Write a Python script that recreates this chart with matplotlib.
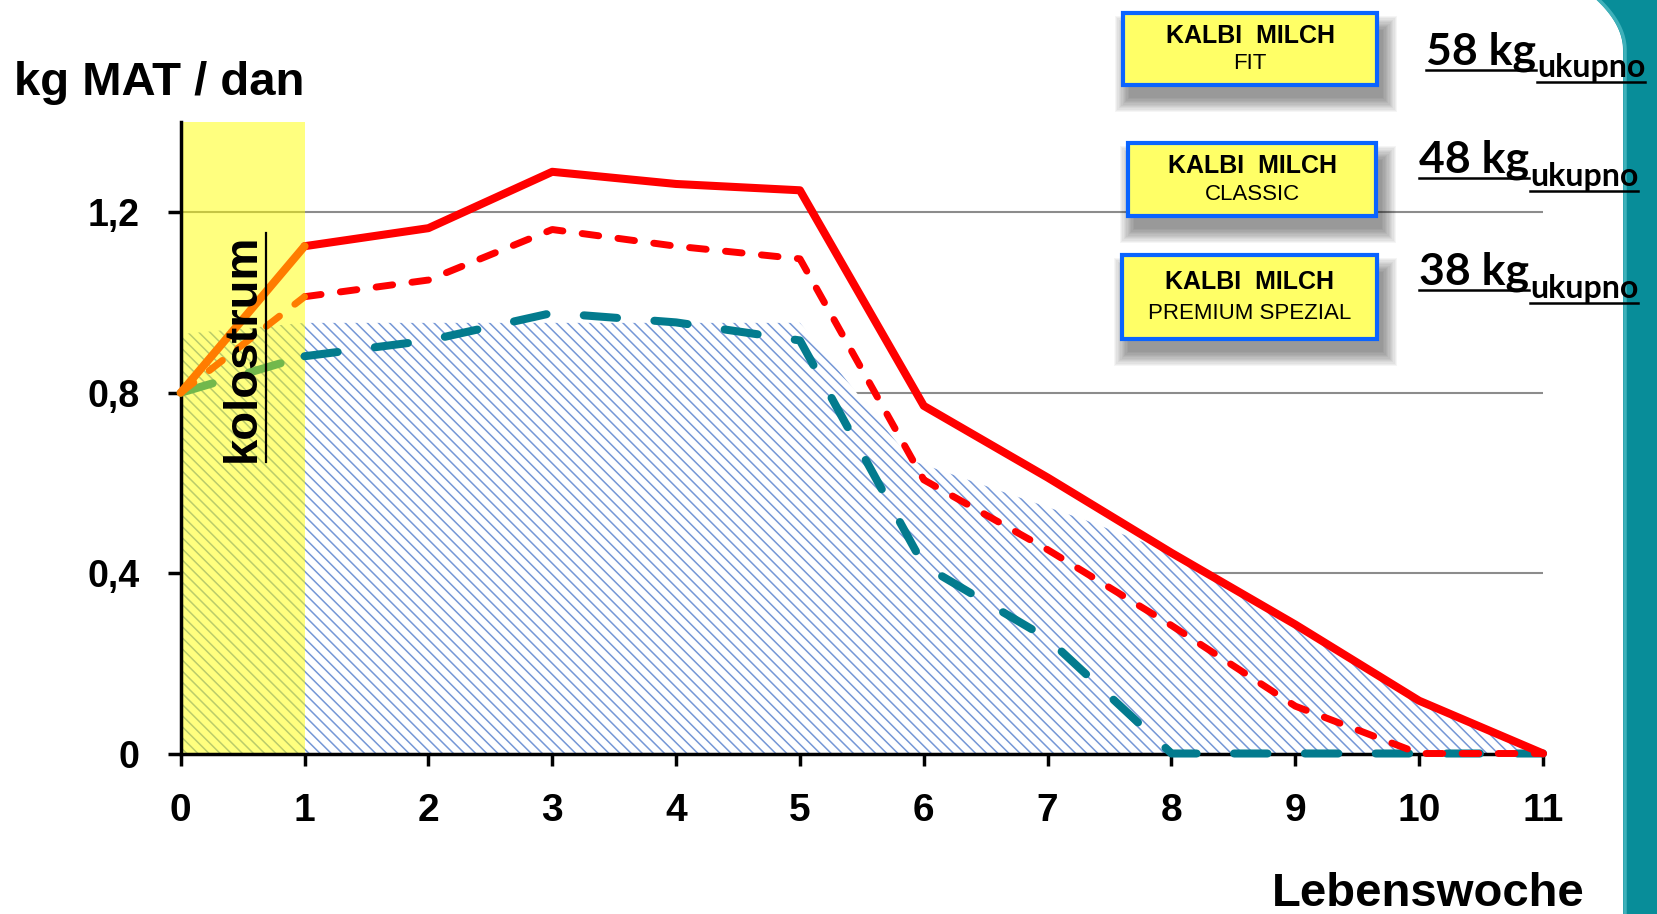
import numpy as np
import matplotlib
matplotlib.use("Agg")
import matplotlib.pyplot as plt
from matplotlib.patches import Rectangle, Polygon
from matplotlib.lines import Line2D

plt.rcParams["font.family"] = ["Liberation Sans", "DejaVu Sans"]
plt.rcParams["lines.scale_dashes"] = False
plt.rcParams["hatch.linewidth"] = 1.1

# ---- data -------------------------------------------------------------
weeks = [0, 1, 2, 3, 4, 5, 6, 7, 8, 9, 10, 11]
fit = [0.80, 1.125, 1.165, 1.290, 1.263, 1.249, 0.771, 0.612, 0.445, 0.286, 0.117, 0.0]
classic = [0.80, 1.013, 1.050, 1.162, 1.125, 1.097, 0.607, 0.452, 0.284, 0.105, 0.0, 0.0]
premium = [0.80, 0.881, 0.916, 0.977, 0.956, 0.916, 0.417, 0.255, 0.0, 0.0, 0.0, 0.0]

# recommended intake band (hatched area)
band_x = [0, 1, 5, 5.9, 6.6, 7.3, 8, 9, 10, 11]
band_y = [0.93, 0.955, 0.955, 0.65, 0.584, 0.518, 0.445, 0.286, 0.117, 0.0]

colostrum_weeks = (0, 1)

y_ticks = [0, 0.4, 0.8, 1.2]
y_ticklabels = ["0", "0,4", "0,8", "1,2"]

products = ["FIT", "CLASSIC", "PREMIUM SPEZIAL"]
totals = ["58 kg", "48 kg", "38 kg"]

# ---- figure -----------------------------------------------------------
W, H = 1657, 914
fig = plt.figure(figsize=(W / 100, H / 100), dpi=100)
fig.patch.set_facecolor("white")


def fx(px):
    return px / W


def fy(py):
    return 1 - py / H


ax = fig.add_axes([fx(180.7), fy(753.5), (1543 - 180.7) / W, (753.5 - 122.2) / H])
ax.set_xlim(0, 11)
ax.set_ylim(0, 1.4)

# grid
ax.set_axisbelow(True)
ax.yaxis.grid(True, color="#8c8c8c", lw=1.5)
ax.xaxis.grid(False)

# hatched band
band = Polygon(np.column_stack([band_x + [0], band_y + [0]]), closed=True,
               facecolor="white", edgecolor="#7597d6", hatch="\\\\\\", lw=0, zorder=1)
ax.add_patch(band)

# colostrum period
ax.axvspan(*colostrum_weeks, color="#ffff00", alpha=0.5, lw=0, zorder=1.5)

# product curves
lw_solid = 5.8
ax.plot(weeks[1:], fit[1:], color="#ff0000", lw=lw_solid, solid_capstyle="round",
        solid_joinstyle="round", clip_on=False, zorder=5)
ax.plot(weeks[:2], fit[:2], color="#ff7c00", lw=lw_solid, solid_capstyle="round",
        clip_on=False, zorder=5)

ax.plot(weeks[1:], classic[1:], color="#ff0000", lw=5.0, dashes=(12, 14),
        dash_capstyle="round", dash_joinstyle="round", clip_on=False, zorder=5)
ax.plot(weeks[:2], classic[:2], color="#ff7c00", lw=5.0, dashes=(12, 14),
        dash_capstyle="round", clip_on=False, zorder=5)

ax.plot(weeks[1:], premium[1:], color="#037b8e", lw=lw_solid, dashes=(24, 27),
        dash_capstyle="round", dash_joinstyle="round", clip_on=False, zorder=4.5)
ax.plot(weeks[:2], premium[:2], color="#72b84c", lw=lw_solid, dashes=(24, 27),
        dash_capstyle="round", clip_on=False, zorder=4.5)

# axes styling
for s in ("top", "right"):
    ax.spines[s].set_visible(False)
for s in ("left", "bottom"):
    ax.spines[s].set_linewidth(2.5)
    ax.spines[s].set_color("black")
    ax.spines[s].set_zorder(3)

ax.set_xticks(weeks)
ax.set_xticklabels([str(w) for w in weeks])
ax.set_yticks(y_ticks)
ax.set_yticklabels(y_ticklabels)
ax.tick_params(axis="x", direction="out", length=8.6, width=2.5, pad=20,
               labelsize=28)
ax.tick_params(axis="y", direction="out", length=9.4, width=2.5, pad=20,
               labelsize=27)
for lab in ax.get_xticklabels() + ax.get_yticklabels():
    lab.set_fontweight("bold")

# colostrum label
kol = ax.text(0.60, 0.90, "kolostrum", rotation=90, rotation_mode="anchor",
              ha="center", va="baseline", fontsize=34, fontweight="bold", zorder=6)

# axis titles
fig.text(fx(14), fy(95), "kg MAT / dan", fontsize=34, fontweight="bold",
         ha="left", va="baseline")
fig.text(fx(1585), fy(906), "Lebenswoche", fontsize=34, fontweight="bold",
         ha="right", va="baseline")

# teal decoration bar on the right edge
ys = np.linspace(0, 50, 30)
xs = 1623 - 26 * (1 - ys / 50) ** 2
pts = [(fx(1657), fy(0))] + [(fx(a), fy(b)) for a, b in zip(xs, ys)] + \
      [(fx(1623), fy(914)), (fx(1657), fy(914))]
fig.add_artist(Polygon(pts, closed=True, facecolor="#088d99", edgecolor="none",
                       transform=fig.transFigure, zorder=0))
fig.add_artist(Line2D([fx(a + 2) for a in xs] + [fx(1625)], [fy(b) for b in ys] + [fy(914)],
                      color="#3fb1ba", lw=2.5, transform=fig.transFigure, zorder=0.5))

# product boxes with drop shadow
boxes = [(1123, 13, 1377, 85), (1128, 143, 1376, 216), (1122, 255, 1377, 339)]
for (l, t, r, b), name in zip(boxes, products):
    for k in range(12):
        grow = k * 1.3
        fig.add_artist(Rectangle((fx(l + 6 - grow), fy(b + 13 + grow)),
                                 (r - l + 2 * grow) / W, (b - t + 2 * grow - 4) / H,
                                 facecolor="black", edgecolor="none", alpha=0.04,
                                 transform=fig.transFigure, zorder=7))
    fig.add_artist(Rectangle((fx(l), fy(b)), (r - l) / W, (b - t) / H,
                             facecolor="#ffff66", edgecolor="#0a64ff", lw=3.0,
                             transform=fig.transFigure, zorder=8))
    cx = (l + r) / 2
    fig.text(fx(cx), fy(t + (b - t) * 0.32), "KALBI  MILCH", fontsize=18,
             fontweight="bold", ha="center", va="center", zorder=9)
    fig.text(fx(cx), fy(t + (b - t) * 0.70), name, fontsize=16,
             ha="center", va="center", zorder=9)

# totals with subscript
fig.canvas.draw()
renderer = fig.canvas.get_renderer()
total_pos = [(1426, 65, 12), (1419, 173, 13), (1419, 285, 13)]
for (x0, base, dsub), txt in zip(total_pos, totals):
    t1 = fig.text(fx(x0), fy(base), txt, fontsize=32, fontweight="bold",
                  family="Lato", ha="left", va="baseline", zorder=9)
    e1 = t1.get_window_extent(renderer)
    fig.add_artist(Line2D([fx(e1.x0), fx(e1.x1)], [fy(base + 5)] * 2, color="black",
                          lw=1.8, transform=fig.transFigure, zorder=9))
    t2 = fig.text(fx(e1.x1 + 1), fy(base + dsub), "ukupno", fontsize=23,
                  fontweight="bold", family="Lato", ha="left", va="baseline", zorder=9)
    e2 = t2.get_window_extent(renderer)
    fig.add_artist(Line2D([fx(e2.x0), fx(e2.x1)], [fy(base + dsub + 5)] * 2,
                          color="black", lw=1.8, transform=fig.transFigure, zorder=9))

# underline for the colostrum label
ek = kol.get_window_extent(renderer)
inv = fig.transFigure.inverted()
(ux, uy0) = inv.transform((ek.x1 + 1, ek.y0))
(_, uy1) = inv.transform((ek.x1 + 1, ek.y1))
fig.add_artist(Line2D([ux, ux], [uy0, uy1], color="black", lw=1.6,
                      transform=fig.transFigure, zorder=9))

fig.savefig("out.png", dpi=100)
